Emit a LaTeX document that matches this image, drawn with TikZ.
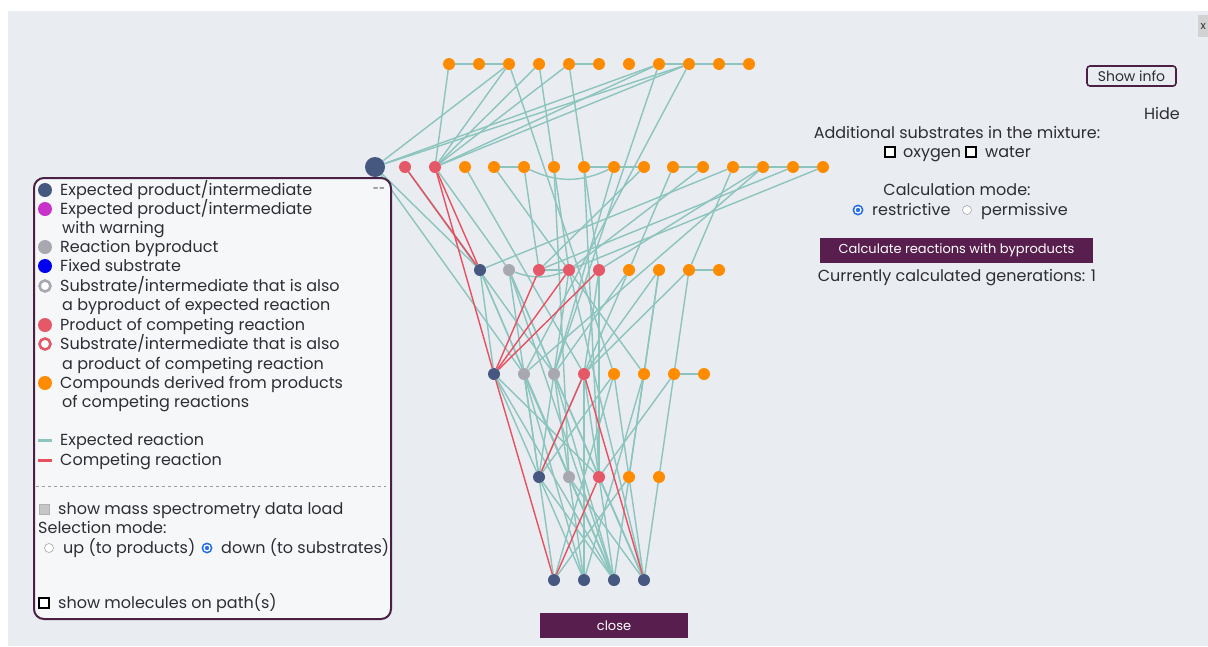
\documentclass[tikz,border=0pt]{standalone}
\usepackage{fontspec}
\setmainfont{Poppins}
\usetikzlibrary{positioning, calc}

\definecolor{panelbg}{RGB}{233,236,241}
\definecolor{legendbg}{RGB}{246,247,249}
\definecolor{plum}{RGB}{88,30,78}
\definecolor{frame}{RGB}{75,32,66}
\definecolor{exblue}{RGB}{70,88,128}
\definecolor{warnmag}{RGB}{200,50,200}
\definecolor{byprod}{RGB}{168,168,176}
\definecolor{fixblue}{RGB}{0,0,240}
\definecolor{comprd}{RGB}{228,88,104}
\definecolor{derorg}{RGB}{255,140,0}
\definecolor{exline}{RGB}{140,196,190}
\definecolor{cpline}{RGB}{232,80,96}
\definecolor{txt}{RGB}{45,45,52}
\definecolor{radioblue}{RGB}{40,110,230}

\pgfdeclarelayer{panel}
\pgfdeclarelayer{links}
\pgfsetlayers{panel,links,main}

\begin{document}
\begin{tikzpicture}[
    x=1pt, y=-1pt,
    every node/.style={font=\fontsize{16}{19}\selectfont, text=txt},
    mol/.style={circle, inner sep=0pt, minimum size=12pt, fill=#1},
    prod/.style={mol=exblue},
    byp/.style={mol=byprod},
    cmp/.style={mol=comprd},
    der/.style={mol=derorg},
    rxn/.style={exline, line width=1.4pt},
    crxn/.style={cpline, line width=1.4pt},
    lgdot/.style={circle, inner sep=0pt, minimum size=14pt, fill=#1},
    lgring/.style={circle, inner sep=0pt, minimum size=11pt, draw=#1, line width=2.6pt, fill=white},
    lgtxt/.style={anchor=base west, inner xsep=0pt},
    swatch/.style={rectangle, inner sep=0pt, minimum width=14pt, minimum height=3pt, fill=#1},
    chk/.style={rectangle, draw=black, line width=1.4pt, minimum size=10pt, inner sep=0pt, fill=white},
    radio/.style={circle, draw=gray!70, line width=0.6pt, fill=white, minimum size=9pt, inner sep=0pt},
    radioon/.style={circle, fill=radioblue, minimum size=11pt, inner sep=0pt,
        path picture={\draw[white, line width=1.3pt] (path picture bounding box.center) circle (3pt);}},
    btn/.style={rectangle, fill=plum, text=white, inner sep=0pt, font=\fontsize{13}{15}\selectfont},
]
    \useasboundingbox (0,0) rectangle (1208,646);
    \begin{pgfonlayer}{panel}
        \fill[white] (0,0) rectangle (1208,646);
        \fill[panelbg] (8,11) rectangle (1208,646);
    \end{pgfonlayer}

    % --- compounds, one row per generation ---
    \foreach \x [count=\i from 0] in {449,479,509,539,569,599,629,659,689,719,749}
        \node[der] (a\i) at (\x,64) {};

    \node[prod, minimum size=20pt] (b0) at (375,167) {};
    \node[cmp] (b1) at (405,167) {};
    \node[cmp] (b2) at (435,167) {};
    \foreach \x [count=\i from 3] in {465,494,524,554,584,614,644,673,703,733,763,793,823}
        \node[der] (b\i) at (\x,167) {};

    \node[prod] (c0) at (480,270) {};
    \node[byp]  (c1) at (509,270) {};
    \foreach \x [count=\i from 2] in {539,569,599}
        \node[cmp] (c\i) at (\x,270) {};
    \foreach \x [count=\i from 5] in {629,659,689,719}
        \node[der] (c\i) at (\x,270) {};

    \node[prod] (d0) at (494,374) {};
    \node[byp]  (d1) at (524,374) {};
    \node[byp]  (d2) at (554,374) {};
    \node[cmp]  (d3) at (584,374) {};
    \foreach \x [count=\i from 4] in {614,644,674,704}
        \node[der] (d\i) at (\x,374) {};

    \node[prod] (e0) at (539,477) {};
    \node[byp]  (e1) at (569,477) {};
    \node[cmp]  (e2) at (599,477) {};
    \node[der]  (e3) at (629,477) {};
    \node[der]  (e4) at (659,477) {};

    \foreach \x [count=\i from 0] in {554,584,614,644}
        \node[prod] (f\i) at (\x,580) {};

    % --- reactions ---
    \begin{pgfonlayer}{links}
    \foreach \u/\v in {a0/a1, a1/a2, a4/a5, a7/a8, a8/a9, a9/a10,
        b4/b5, b7/b8, b8/b9, b10/b11, b12/b13, b13/b14, b14/b15,
        c7/c8, c2/c3, d6/d7,
        a0/b2, a2/b0, a2/b2, a3/b2, a4/b2, a7/b0, a7/b2, a8/b0, a8/b2,
        a2/d4, a3/c3, a4/c4, a7/d2, a8/d1,
        b0/c0, b0/d1, b1/c0, b1/d2, b2/c1, b3/d3, b4/d5, b5/c2, b6/e1,
        b7/e2, b8/d2, b9/c2, b10/c5, b11/c3, b12/c0, b12/c7, b13/d1,
        b13/c4, b14/c2, b15/c3,
        c0/d0, c0/e1, c0/f2, c1/d2, c1/e0, c1/f2, c1/f3, c3/e0, c3/f3,
        c4/d3, c4/e2, c5/d2, c5/e0, c6/d5, c6/d3, c6/e3, c7/d6, c7/d3,
        d0/e0, d0/e2, d0/f2, d1/e0, d1/f1, d1/f2, d2/e1, d2/f2, d2/f3,
        d3/e2, d3/f1, d4/e3, d4/e0, d4/f0, d5/e3, d5/f1, d6/e4, d6/e2,
        e0/f0, e0/f1, e0/f2, e1/f1, e1/f2, e1/f3, e2/f2, e2/f3,
        e3/f0, e3/f2, e3/f3, e4/f3}
        \draw[rxn] (\u) -- (\v);
    \draw[rxn] (b5) to[bend right=25] (b8);
    \draw[rxn] (c1) to[bend right=20] (c3);
    \foreach \u/\v in {b1/c0, b2/c0, b2/d0, d0/f0, d0/c2, d0/c3, d0/c4,
        e0/d3, e2/f0, d3/f3}
        \draw[crxn] (\u) -- (\v);
    \end{pgfonlayer}

    % --- legend panel ---
    \node[draw=frame, line width=2pt, rounded corners=10pt, fill=legendbg,
        minimum width=357pt, minimum height=441pt, anchor=north west, inner sep=0pt] (legend) at (33,177) {};
    \node[font=\fontsize{11}{11}\selectfont] (dash) at (379,190) {{-}{-}};
    \foreach \y/\c [count=\i] in {190/exblue, 209/warnmag, 247/byprod, 266/fixblue, 325/comprd, 383/derorg}
        \node[lgdot=\c] (ld\i) at (45,\y) {};
    \node[lgring=byprod] (lr1) at (45,286) {};
    \node[lgring=comprd] (lr2) at (45,344) {};
    \foreach \y/\x/\t [count=\i] in {195/60/{Expected product/intermediate},
        214/60/{Expected product/intermediate}, 233/62/{with warning},
        252/60/{Reaction byproduct}, 271/60/{Fixed substrate},
        291/60/{Substrate/intermediate that is also}, 310/62/{a byproduct of expected reaction},
        330/60/{Product of competing reaction},
        349/60/{Substrate/intermediate that is also}, 369/62/{a product of competing reaction},
        388/60/{Compounds derived from products}, 407/62/{of competing reactions}}
        \node[lgtxt] (lt\i) at (\x,\y) {\t};
    \node[swatch=exline] (ls1) at (45,440) {};
    \node[swatch=cpline] (ls2) at (45,460) {};
    \node[lgtxt] (lrx1) at (60,445) {Expected reaction};
    \node[lgtxt] (lrx2) at (60,465) {Competing reaction};
    \draw[gray!80, dashed] (36,486) -- (386,486);
    \node[chk, draw=gray!60, fill=gray!45, line width=0.8pt] (msbox) at (44,509) {};
    \node[lgtxt] (mstxt) at (58,514) {show mass spectrometry data load};
    \node[lgtxt] (seltxt) at (38,533) {Selection mode:};
    \node[radio] (up) at (49,548) {};
    \node[lgtxt] (uptxt) at (63,553) {up (to products)};
    \node[radioon] (down) at (207,548) {};
    \node[lgtxt] (downtxt) at (221,553) {down (to substrates)};
    \node[chk] (pathbox) at (44,603) {};
    \node[lgtxt] (pathtxt) at (58,608) {show molecules on path(s)};

    % --- settings on the right ---
    \node[draw=frame, line width=1.6pt, rounded corners=3pt, minimum width=89pt, minimum height=20pt,
        inner sep=0pt, font=\fontsize{14}{16}\selectfont] (info) at (1131.5,76) {Show info};
    \node[anchor=base] (hide) at (1162,119) {Hide};
    \node[anchor=base] (addtxt) at (957,138) {Additional substrates in the mixture:};
    \node[chk] (oxbox) at (890,152) {};
    \node[lgtxt] (oxtxt) at (903,157) {oxygen};
    \node[chk] (wabox) at (971,152) {};
    \node[lgtxt] (watxt) at (985,157) {water};
    \node[anchor=base] (modetxt) at (957,195) {Calculation mode:};
    \node[radioon] (restr) at (858,210) {};
    \node[lgtxt] (restrtxt) at (872,215) {restrictive};
    \node[radio] (perm) at (967,210) {};
    \node[lgtxt] (permtxt) at (981,215) {permissive};
    \node[btn, minimum width=273pt, minimum height=25pt] (calc) at (956.5,250.5)
        {Calculate reactions with byproducts};
    \node[anchor=base] (gentxt) at (957,281) {Currently calculated generations: 1};

    \node[btn, minimum width=148pt, minimum height=25pt] (close) at (614,625.5) {close};
    \node[fill=gray!35, minimum width=10pt, minimum height=22pt, inner sep=0pt, anchor=west,
        font=\fontsize{11}{11}\selectfont] (xbtn) at (1198,26) {x};
\end{tikzpicture}
\end{document}
